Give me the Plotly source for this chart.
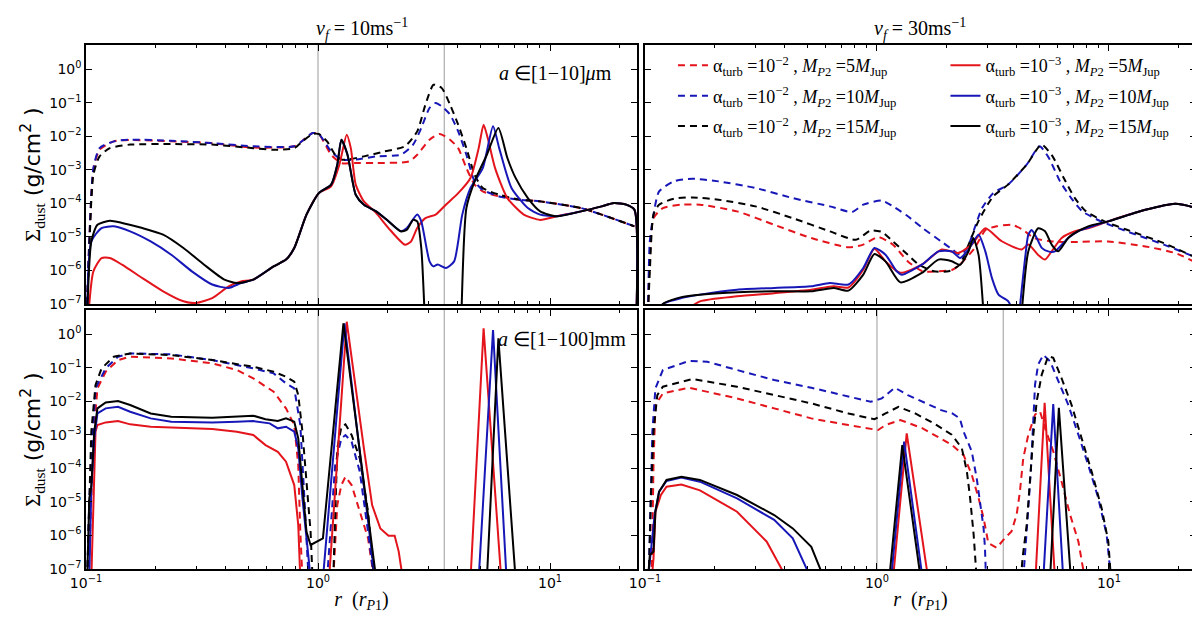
import plotly.graph_objects as go
from plotly.subplots import make_subplots

# r in units of r_P1, Sigma_dust in g/cm^2
# tl/tr: a in [1-10] um (v_f = 10 / 30 m/s), bl/br: a in [1-100] mm
# dash = alpha_turb 1e-2, solid = alpha_turb 1e-3 ; red/blue/black = 5/10/15 M_Jup

# ---------------- top left ----------------
tl_dash_red_x = [0.1012, 0.1033, 0.1076, 0.1144, 0.1318, 0.155, 0.233, 0.350, 0.526, 0.790, 0.857, 0.948, 1.008, 1.139, 1.261, 1.454, 1.782, 2.467, 2.677, 3.025, 3.348, 3.707, 4.020, 4.361, 4.731, 5.131, 6.039, 7.401, 9.071, 13.62, 16.70, 23.12]
tl_dash_red_y = [1e-7, 7.3e-6, 1.0e-3, 3.95e-3, 7.0e-3, 7.7e-3, 7.0e-3, 6.2e-3, 4.6e-3, 5.0e-3, 7.3e-3, 1.24e-2, 1.16e-2, 2.8e-3, 1.58e-3, 1.58e-3, 1.58e-3, 1.77e-3, 2.8e-3, 7.85e-3, 1.16e-2, 7.85e-3, 4.4e-3, 1.12e-3, 3.6e-4, 2.26e-4, 1.6e-4, 1.28e-4, 1.14e-4, 7.2e-5, 4.6e-5, 2.06e-5]

tl_dash_blue_x = [0.1012, 0.1033, 0.1076, 0.1144, 0.1318, 0.155, 0.233, 0.350, 0.526, 0.790, 0.857, 0.948, 1.008, 1.139, 1.261, 1.454, 1.782, 2.275, 2.570, 2.787, 3.025, 3.214, 3.417, 3.707, 4.020, 4.361, 4.731, 5.131, 6.039, 7.401, 9.071, 13.62, 16.70, 23.12]
tl_dash_blue_y = [1e-7, 7.3e-6, 1.12e-3, 4.4e-3, 7.0e-3, 7.85e-3, 7.3e-3, 6.2e-3, 5.0e-3, 5.0e-3, 7.3e-3, 1.24e-2, 1.16e-2, 3.5e-3, 2.0e-3, 2.0e-3, 2.5e-3, 2.8e-3, 5.6e-3, 1.75e-2, 6.9e-2, 9.7e-2, 7.7e-2, 4.4e-2, 1.39e-2, 2.8e-3, 4.5e-4, 2.5e-4, 1.6e-4, 1.28e-4, 1.14e-4, 7.2e-5, 4.6e-5, 2.06e-5]

tl_dash_black_x = [0.1012, 0.1033, 0.1076, 0.1144, 0.1266, 0.155, 0.233, 0.350, 0.526, 0.644, 0.790, 0.857, 0.948, 1.008, 1.094, 1.186, 1.261, 1.340, 1.577, 1.932, 2.369, 2.677, 2.904, 3.149, 3.417, 3.707, 4.020, 4.361, 4.731, 5.131, 6.039, 7.401, 9.071, 13.62, 16.70, 23.12]
tl_dash_black_y = [1e-7, 4.65e-6, 7.1e-4, 2.5e-3, 4.4e-3, 5.6e-3, 5.8e-3, 5.6e-3, 4.4e-3, 3.95e-3, 4.4e-3, 7.0e-3, 1.16e-2, 1.16e-2, 7.0e-3, 2.8e-3, 2.0e-3, 2.0e-3, 2.5e-3, 3.5e-3, 5.0e-3, 1.39e-2, 8.7e-2, 0.34, 0.27, 8.7e-2, 2.2e-2, 4.4e-3, 7.1e-4, 2.85e-4, 1.8e-4, 1.28e-4, 1.14e-4, 7.2e-5, 4.6e-5, 2.06e-5]

tl_solid_red_x = [0.1025, 0.1076, 0.1167, 0.1266, 0.143, 0.175, 0.215, 0.263, 0.298, 0.350, 0.412, 0.466, 0.526, 0.644, 0.728, 0.790, 0.892, 1.008, 1.139, 1.236, 1.330, 1.385, 1.454, 1.577, 1.782, 2.013, 2.369, 2.518, 2.677, 2.904, 3.214, 3.559, 4.020, 4.543, 4.927, 5.173, 5.389, 5.798, 6.551, 7.708, 9.071, 10.67, 13.62, 16.70, 18.87, 21.31, 23.12, 23.6]
tl_solid_red_y = [5e-8, 9.4e-7, 2.34e-6, 2.34e-6, 1.48e-6, 5.9e-7, 2.38e-7, 1.2e-7, 1.07e-7, 1.5e-7, 3.35e-7, 4.7e-7, 5.3e-7, 1.32e-6, 2.1e-6, 4.65e-6, 4.6e-5, 2.0e-4, 3.2e-4, 1.41e-3, 1.11e-2, 4.4e-3, 3.6e-4, 1.14e-4, 5.1e-5, 1.83e-5, 5.85e-6, 7.3e-6, 1.83e-5, 3.6e-5, 4.6e-5, 9.1e-5, 2.0e-4, 5.7e-4, 4.4e-3, 2.2e-2, 8.8e-3, 1.12e-3, 1.43e-4, 4.6e-5, 3.2e-5, 4.1e-5, 5.75e-5, 8.1e-5, 1.02e-4, 9.1e-5, 6.4e-5, 5e-8]

tl_solid_blue_x = [0.1012, 0.1054, 0.1167, 0.1318, 0.155, 0.190, 0.233, 0.286, 0.350, 0.412, 0.466, 0.526, 0.644, 0.728, 0.790, 0.892, 1.008, 1.139, 1.211, 1.261, 1.340, 1.454, 1.577, 1.782, 2.013, 2.275, 2.417, 2.677, 2.787, 3.025, 3.149, 3.281, 3.559, 3.861, 4.187, 4.543, 5.131, 5.681, 6.039, 6.823, 8.028, 9.071, 10.67, 13.62, 16.70, 18.87, 21.31, 23.12, 23.6]
tl_solid_blue_y = [5e-8, 7.3e-6, 1.83e-5, 2.06e-5, 1.46e-5, 7.3e-6, 2.94e-6, 9.4e-7, 3.8e-7, 3.0e-7, 4.2e-7, 5.3e-7, 1.32e-6, 2.1e-6, 4.65e-6, 4.6e-5, 2.0e-4, 3.6e-4, 1.41e-3, 7.85e-3, 2.8e-3, 1.8e-4, 9.1e-5, 5.75e-5, 2.9e-5, 1.46e-5, 1.83e-5, 4.6e-5, 2.9e-5, 1.86e-6, 1.32e-6, 1.5e-6, 1.18e-6, 1.86e-6, 4.6e-5, 2.85e-4, 1.12e-3, 1.96e-2, 4.4e-3, 2.85e-4, 7.2e-5, 4.6e-5, 4.1e-5, 5.75e-5, 8.1e-5, 1.02e-4, 9.1e-5, 6.4e-5, 5e-8]

tl_solid_black_x = [0.1012, 0.1054, 0.112, 0.1266, 0.143, 0.175, 0.215, 0.263, 0.323, 0.395, 0.447, 0.526, 0.644, 0.728, 0.790, 0.892, 1.008, 1.139, 1.211, 1.261, 1.340, 1.454, 1.577, 1.782, 2.013, 2.275, 2.417, 2.570, 2.677, 2.787, 2.880, None, 4.153, 4.361, 4.731, 5.345, 5.991, 6.551, 7.106, 8.028, 9.071, 10.67, 13.62, 16.70, 18.87, 21.31, 23.12, 23.6]
tl_solid_black_y = [5e-8, 7.3e-6, 2.3e-5, 3.0e-5, 2.6e-5, 1.83e-5, 1.16e-5, 4.65e-6, 1.48e-6, 5.3e-7, 4.2e-7, 5.3e-7, 1.32e-6, 2.1e-6, 4.65e-6, 4.6e-5, 2.0e-4, 3.6e-4, 1.41e-3, 7.85e-3, 2.8e-3, 1.8e-4, 9.1e-5, 5.75e-5, 2.9e-5, 1.46e-5, 1.63e-5, 3.2e-5, 2.9e-5, 4.65e-6, 5e-8, None, 5e-8, 7.2e-5, 4.5e-4, 2.8e-3, 1.75e-2, 2.24e-3, 5.7e-4, 1.43e-4, 5.75e-5, 4.1e-5, 5.75e-5, 8.1e-5, 1.02e-4, 9.1e-5, 6.4e-5, 5e-8]

# ---------------- top right ----------------
tr_dash_red_x = [0.103, 0.1049, 0.1088, 0.1194, 0.1435, 0.1725, 0.2493, 0.3604, 0.521, 0.7531, 0.8726, 1.011, 1.172, 1.358, 1.573, 1.823, 2.113, 2.274, 2.635, 2.943, 3.287, 3.809, 4.255, 4.752, 5.713, 6.870, 9.927, 14.35, 19.27, 23.16]
tr_dash_red_y = [5e-8, 2.34e-6, 3.6e-5, 7.2e-5, 9.1e-5, 9.1e-5, 5.75e-5, 2.3e-5, 9.2e-6, 4.9e-6, 5.85e-6, 9.9e-6, 5.85e-6, 1.86e-6, 9.4e-7, 9.4e-7, 1.05e-6, 1.48e-6, 4.65e-6, 1.63e-5, 2.06e-5, 2.3e-5, 1.63e-5, 9.2e-6, 7.3e-6, 7.0e-6, 7.3e-6, 5.2e-6, 3.3e-6, 1.86e-6]

tr_dash_blue_x = [0.103, 0.1049, 0.1088, 0.115, 0.1333, 0.1602, 0.2074, 0.2998, 0.4334, 0.6264, 0.7813, 0.8726, 1.049, 1.172, 1.358, 1.573, 1.891, 2.113, 2.274, 2.448, 2.635, 2.837, 3.168, 3.671, 4.415, 5.022, 5.506, 6.150, 6.870, 7.674, 9.222, 11.94, 17.25, 23.16]
tr_dash_blue_y = [5e-8, 7.3e-6, 4.6e-5, 2.26e-4, 4.5e-4, 5.4e-4, 4.5e-4, 2.85e-4, 1.43e-4, 8.1e-5, 5.5e-5, 9.1e-5, 1.2e-4, 8.1e-5, 4.1e-5, 1.83e-5, 7.3e-6, 4.2e-6, 2.94e-6, 4.65e-6, 1.83e-5, 7.2e-5, 2.0e-4, 3.6e-4, 1.41e-3, 5.0e-3, 2.24e-3, 4.5e-4, 1.43e-4, 5.75e-5, 2.9e-5, 1.46e-5, 5.85e-6, 2.6e-6]

tr_dash_black_x = [0.103, 0.1049, 0.1088, 0.115, 0.1333, 0.1602, 0.2074, 0.2998, 0.4334, 0.6264, 0.8103, 0.9393, 1.049, 1.172, 1.358, 1.516, 1.757, 2.036, 2.274, 2.448, 2.734, 3.168, 3.671, 4.415, 5.116, 5.713, 6.382, 7.128, 7.958, 9.568, 11.94, 17.25, 23.16]
tr_dash_black_y = [5e-8, 9.4e-7, 4.6e-5, 9.1e-5, 1.37e-4, 1.5e-4, 1.28e-4, 8.1e-5, 3.6e-5, 1.46e-5, 8.2e-6, 1.55e-5, 1.4e-5, 7.3e-6, 2.94e-6, 1.48e-6, 9.4e-7, 9.4e-7, 1.48e-6, 4.65e-6, 2.9e-5, 1.6e-4, 3.6e-4, 1.41e-3, 5.6e-3, 2.5e-3, 5.7e-4, 1.43e-4, 5.75e-5, 2.9e-5, 1.63e-5, 6.5e-6, 2.6e-6]

tr_solid_red_x = [0.1435, 0.1725, 0.2493, 0.3604, 0.521, 0.650, 0.7531, 0.8726, 0.9745, 1.088, 1.261, 1.56, 1.90, 2.24, 2.56, 2.93, 3.45, 4.20, 4.49, 4.95, 5.30, 5.66, 6.25, 7.13, 8.13, 9.927, 14.35, 19.27, 22.33, 23.16, 23.6]
tr_solid_red_y = [5e-8, 1.2e-7, 1.69e-7, 2.1e-7, 2.67e-7, 3.35e-7, 3.1e-7, 1.05e-6, 4.4e-6, 1.86e-6, 8.5e-7, 1.48e-6, 4.2e-6, 3.3e-6, 5.9e-6, 1.8e-5, 7.4e-6, 4.2e-6, 5.9e-6, 2.9e-6, 2.1e-6, 3.7e-6, 9.3e-6, 1.47e-5, 1.8e-5, 2.9e-5, 6.4e-5, 9.7e-5, 8.1e-5, 7.2e-5, 5e-8]

tr_solid_blue_x = [0.115, 0.1194, 0.1435, 0.1725, 0.2493, 0.3604, 0.521, 0.6264, 0.7531, 0.8726, 0.9745, 1.088, 1.216, 1.28, 1.56, 1.84, 2.10, 2.28, 2.48, 2.74, 2.93, 3.13, 3.34, 3.68, 3.90, None, 4.10, 4.35, 4.49, 4.64, 4.88, 5.13, 5.47, 5.85, 6.67, 7.36, 8.13, 9.927, 14.35, 19.27, 22.33, 23.16, 23.6]
tr_solid_blue_y = [5e-8, 1e-7, 1.5e-7, 1.9e-7, 2.67e-7, 3.0e-7, 3.35e-7, 4.2e-7, 3.8e-7, 1.18e-6, 4.65e-6, 2.94e-6, 9.4e-7, 7.4e-7, 1.48e-6, 3.7e-6, 3.7e-6, 2.34e-6, 4.2e-6, 1.16e-5, 3.7e-6, 5.9e-7, 1.9e-7, 1.2e-7, 5e-8, None, 5e-8, 2.34e-6, 1.16e-5, 1.6e-5, 9.3e-6, 4.7e-6, 3.7e-6, 3.7e-6, 9.3e-6, 1.47e-5, 1.9e-5, 2.9e-5, 6.4e-5, 9.7e-5, 8.1e-5, 7.2e-5, 5e-8]

tr_solid_black_x = [0.115, 0.1194, 0.1435, 0.2074, 0.3604, 0.521, 0.650, 0.7531, 0.8726, 0.9745, 1.088, 1.261, 1.56, 1.84, 2.10, 2.28, 2.48, 2.60, 2.74, 2.88, None, 4.20, 4.49, 4.95, 5.30, 5.66, 6.04, 6.67, 7.36, 8.13, 9.927, 14.35, 19.27, 22.33, 23.16, 23.6]
tr_solid_black_y = [5e-8, 1e-7, 1.6e-7, 2.1e-7, 2.4e-7, 2.4e-7, 3.0e-7, 2.5e-7, 7.5e-7, 3.1e-6, 1.86e-6, 4.4e-7, 8.4e-7, 2.1e-6, 1.87e-6, 1.48e-6, 3.7e-6, 9.3e-6, 2.9e-6, 5e-8, None, 5e-8, 3.7e-6, 1.8e-5, 1.47e-5, 5.9e-6, 3.7e-6, 9.3e-6, 1.47e-5, 2.06e-5, 2.9e-5, 6.4e-5, 9.7e-5, 8.1e-5, 7.2e-5, 5e-8]

# ---------------- bottom left ----------------
bl_dash_red_x = [0.1025, 0.1054, 0.1076, 0.112, 0.1216, 0.1374, 0.155, 0.233, 0.350, 0.447, 0.526, 0.644, 0.728, 0.790, 0.822, 0.839, 0.857, None, 1.163, 1.211, 1.261, 1.313, 1.396, 1.514, 1.643, 1.746]
bl_dash_red_y = [5e-8, 8.0e-6, 7.8e-4, 2.41e-2, 7.55e-2, 0.168, 0.211, 0.188, 0.134, 8.47e-2, 4.78e-2, 1.91e-2, 6.1e-3, 1.94e-3, 1.25e-4, 1.29e-6, 5e-8, None, 5e-8, 8.0e-6, 3.17e-5, 5.6e-5, 3.17e-5, 5.1e-6, 8.2e-7, 5e-8]

bl_dash_blue_x = [0.1012, 0.1033, 0.1054, 0.1099, 0.1216, 0.1374, 0.155, 0.233, 0.350, 0.526, 0.644, 0.728, 0.790, 0.839, 0.874, 0.911, None, 1.094, 1.186, 1.261, 1.313, 1.396, 1.514, 1.643, 1.746]
bl_dash_blue_y = [5e-8, 1e-5, 2.0e-4, 2.41e-2, 9.49e-2, 0.211, 0.265, 0.248, 0.168, 9.49e-2, 6.73e-2, 3.39e-2, 2.41e-2, 1.94e-3, 1.27e-5, 5e-8, None, 5e-8, 1.25e-4, 7.8e-4, 9.8e-4, 6.2e-4, 7.9e-5, 1.29e-6, 5e-8]

bl_dash_black_x = [0.1012, 0.1033, 0.1054, 0.1099, 0.1167, 0.1318, 0.155, 0.233, 0.350, 0.526, 0.644, 0.728, 0.790, 0.822, 0.857, 0.892, 0.929, 0.948, None, 1.163, 1.211, 1.261, 1.313, 1.396, 1.514, 1.643, 1.746]
bl_dash_black_y = [5e-8, 2.0e-5, 1.23e-3, 3.03e-2, 9.49e-2, 0.211, 0.265, 0.237, 0.168, 0.106, 7.55e-2, 5.36e-2, 3.8e-2, 1.52e-2, 1.23e-3, 4.0e-5, 1.29e-6, 5e-8, None, 5e-8, 3.9e-4, 1.73e-3, 2.04e-3, 9.8e-4, 1.98e-4, 5.1e-6, 5e-8]

bl_solid_red_x = [0.1054, 0.1076, 0.1099, 0.112, 0.1216, 0.1374, 0.155, 0.190, 0.233, 0.350, 0.447, 0.526, 0.594, 0.671, 0.728, 0.790, 0.822, 0.839, None, 1.116, 1.330, 1.577, 1.711, 1.856, 2.013, 2.140, 2.228, 2.322, None, 4.543, 5.173, 6.163]
bl_solid_red_y = [5e-8, 8.0e-6, 1.23e-3, 1.94e-3, 2.33e-3, 2.56e-3, 2.04e-3, 1.73e-3, 1.62e-3, 1.48e-3, 1.23e-3, 9.8e-4, 4.9e-4, 3.1e-4, 1.57e-4, 3.17e-5, 2.04e-6, 5e-8, None, 5e-8, 2.33, 3.9e-4, 8.0e-6, 1.62e-6, 9.8e-7, 9.8e-7, 3.3e-7, 5e-8, None, 5e-8, 1.48, 5e-8]

bl_solid_blue_x = [0.1033, 0.1054, 0.1085, 0.112, 0.1216, 0.1374, 0.155, 0.190, 0.233, 0.350, 0.447, 0.526, 0.619, 0.671, 0.728, 0.790, 0.822, 0.857, 0.911, 0.929, None, 1.050, 1.30, 1.760, None, 4.927, 5.681, 6.498]
bl_solid_blue_y = [5e-8, 2.52e-5, 7.8e-4, 4.3e-3, 6.1e-3, 6.8e-3, 4.85e-3, 3.07e-3, 2.45e-3, 2.33e-3, 2.45e-3, 2.56e-3, 2.18e-3, 1.55e-3, 1.73e-3, 1.23e-3, 3.9e-4, 1.27e-5, 2.07e-7, 5e-8, None, 5e-8, 2.08, 5e-8, None, 5e-8, 1.32, 5e-8]

bl_solid_black_x = [0.1012, 0.1033, 0.1054, 0.1085, 0.112, 0.1216, 0.1374, 0.155, 0.190, 0.233, 0.350, 0.447, 0.526, 0.594, 0.671, 0.728, 0.790, 0.822, 0.857, 0.892, 0.929, 0.988, 1.050, 1.287, 1.782, None, 5.345, 5.991, 7.106]
bl_solid_black_y = [5e-8, 1.27e-5, 2.83e-5, 1.23e-3, 6.1e-3, 9.2e-3, 1.01e-2, 7.7e-3, 4.3e-3, 3.45e-3, 3.2e-3, 3.45e-3, 3.7e-3, 2.9e-3, 2.56e-3, 3.07e-3, 2.45e-3, 7.8e-4, 3.17e-5, 1.29e-6, 5.2e-7, 6.5e-7, 8.2e-7, 2.08, 5e-8, None, 5e-8, 0.743, 5e-8]

# ---------------- bottom right ----------------
br_dash_red_x = [0.1069, 0.1088, 0.1109, 0.1194, 0.1545, 0.2493, 0.3604, 0.521, 0.7531, 0.9393, 1.011, 1.088, 1.261, 1.573, 1.891, 2.10, 2.36, 2.56, 2.74, 2.88, 3.02, 3.28, 3.56, 3.80, 4.00, 4.13, 4.27, 4.49, 4.80, 5.04, 5.30, 5.75, 6.24, 6.79, 7.38, 7.87]
br_dash_red_y = [5e-8, 1.25e-4, 7.7e-3, 1.71e-2, 2.52e-2, 1.21e-2, 6.1e-3, 3.07e-3, 1.94e-3, 1.55e-3, 1.38e-3, 1.94e-3, 2.74e-3, 1.55e-3, 7.8e-4, 5.0e-4, 2.5e-4, 6.5e-5, 1.29e-5, 3.3e-6, 5.9e-7, 4.3e-7, 8.3e-7, 1.32e-6, 4.2e-6, 2.0e-5, 2.0e-4, 1.0e-3, 4.0e-3, 5.0e-3, 1.58e-3, 3.2e-4, 4.1e-5, 4.2e-6, 6.6e-7, 5e-8]

br_dash_blue_x = [0.1038, 0.1052, 0.1076, 0.1109, 0.1194, 0.1545, 0.1856, 0.2493, 0.3604, 0.521, 0.7531, 0.9393, 1.049, 1.193, 1.358, 1.573, 1.891, 2.113, 2.274, 2.36, 2.56, 2.69, 2.78, 2.88, 2.92, 2.95, None, 4.27, 4.37, 4.49, 4.61, 4.72, 4.80, 4.95, 5.21, 5.57, 6.04, 6.67, 7.38, 8.13, 8.99, 9.77, 10.2]
br_dash_blue_y = [5e-8, 1.29e-6, 1.23e-3, 2.41e-2, 8.47e-2, 0.157, 0.150, 8.47e-2, 4.26e-2, 2.52e-2, 1.36e-2, 9.6e-3, 1.21e-2, 2.52e-2, 1.52e-2, 9.6e-3, 5.4e-3, 4.3e-3, 3.07e-3, 1.26e-3, 3.2e-4, 5.1e-5, 8.3e-6, 1.66e-6, 4.3e-7, 5e-8, None, 5e-8, 6.8e-7, 6.6e-6, 1.02e-4, 2.0e-3, 3.1e-2, 0.123, 0.24, 0.155, 3.9e-2, 7.9e-3, 1.0e-3, 1.29e-4, 1.29e-5, 1.05e-6, 5e-8]

br_dash_black_x = [0.1038, 0.106, 0.1088, 0.113, 0.1194, 0.1602, 0.2493, 0.3604, 0.521, 0.7531, 0.9745, 1.088, 1.238, 1.462, 1.757, 2.10, 2.32, 2.44, 2.52, 2.61, 2.69, None, 4.17, 4.24, 4.42, 4.57, 4.72, 4.88, 5.13, 5.47, 5.75, 6.24, 6.89, 7.62, 8.41, 9.29, 9.93, 10.2]
br_dash_black_y = [5e-8, 1.27e-5, 1.23e-3, 1.52e-2, 2.7e-2, 4.56e-2, 2.7e-2, 1.52e-2, 8.6e-3, 4.3e-3, 2.9e-3, 4.3e-3, 6.8e-3, 4.3e-3, 2.18e-3, 1.0e-3, 4.0e-4, 8.1e-5, 1.29e-5, 1.05e-6, 5e-8, None, 5e-8, 2.1e-7, 2.1e-6, 4.1e-5, 1.0e-3, 1.0e-2, 6.2e-2, 0.219, 0.195, 4.9e-2, 7.9e-3, 7.9e-4, 8.1e-5, 6.6e-6, 6.6e-7, 5e-8]

br_solid_red_x = [0.1069, 0.1088, 0.1109, 0.1171, 0.1238, 0.1435, 0.1725, 0.2493, 0.3348, 0.410, None, 1.172, 1.343, 1.663, None, 4.82, 5.28, 5.85]
br_solid_red_y = [5e-8, 2.07e-7, 5.1e-6, 1.6e-5, 2.83e-5, 3.3e-5, 2.2e-5, 5.1e-6, 6.5e-7, 5e-8, None, 5e-8, 1.1e-3, 5e-8, None, 5e-8, 9.0e-3, 5e-8]

br_solid_blue_x = [0.103, 0.1052, 0.110, 0.115, 0.1238, 0.1435, 0.1725, 0.2493, 0.3604, 0.4334, 0.521, None, 1.150, 1.309, 1.573, None, 5.21, 5.75, 6.35]
br_solid_blue_y = [5e-8, 2.07e-7, 4.05e-6, 2.0e-5, 4.2e-5, 5.3e-5, 4.0e-5, 1.27e-5, 2.9e-6, 8.2e-7, 5e-8, None, 5e-8, 6.2e-4, 5e-8, None, 5e-8, 8.2e-3, 5e-8]

br_solid_black_x = [0.103, 0.1049, 0.1088, 0.1109, 0.115, 0.1238, 0.1435, 0.1725, 0.2493, 0.3604, 0.4334, 0.521, 0.593, None, 1.129, 1.285, 1.544, None, 5.57, 6.08, 6.85]
br_solid_black_y = [5e-8, 2.6e-7, 3.3e-7, 5.1e-6, 2.0e-5, 4.5e-5, 5.6e-5, 4.5e-5, 1.6e-5, 4.05e-6, 1.62e-6, 4.6e-7, 5e-8, None, 5e-8, 4.9e-4, 5e-8, None, 5e-8, 6.3e-3, 5e-8]

# planet positions (grey lines)
planet_r = [1.0, 3.5]

x_tick_vals = [0.1, 1, 10]
x_tick_text = ["10<sup>−1</sup>", "10<sup>0</sup>", "10<sup>1</sup>"]
x_minor_vals = [0.2, 0.3, 0.4, 0.5, 0.6, 0.7, 0.8, 0.9, 2, 3, 4, 5, 6, 7, 8, 9, 20]
y_tick_vals = [1e-7, 1e-6, 1e-5, 1e-4, 1e-3, 1e-2, 1e-1, 1]
y_tick_text = ["10<sup>−7</sup>", "10<sup>−6</sup>", "10<sup>−5</sup>", "10<sup>−4</sup>",
               "10<sup>−3</sup>", "10<sup>−2</sup>", "10<sup>−1</sup>", "10<sup>0</sup>"]

legend_labels = [
    "α<sub>turb</sub> =10<sup>−2</sup> , <i>M</i><sub><i>P</i>2</sub> =5<i>M</i><sub>Jup</sub>",
    "α<sub>turb</sub> =10<sup>−2</sup> , <i>M</i><sub><i>P</i>2</sub> =10<i>M</i><sub>Jup</sub>",
    "α<sub>turb</sub> =10<sup>−2</sup> , <i>M</i><sub><i>P</i>2</sub> =15<i>M</i><sub>Jup</sub>",
    "α<sub>turb</sub> =10<sup>−3</sup> , <i>M</i><sub><i>P</i>2</sub> =5<i>M</i><sub>Jup</sub>",
    "α<sub>turb</sub> =10<sup>−3</sup> , <i>M</i><sub><i>P</i>2</sub> =10<i>M</i><sub>Jup</sub>",
    "α<sub>turb</sub> =10<sup>−3</sup> , <i>M</i><sub><i>P</i>2</sub> =15<i>M</i><sub>Jup</sub>",
]

RED = "#e3141c"
BLUE = "#1717b8"
BLACK = "#000000"
SERIF = "Liberation Serif"
SANS = "DejaVu Sans"

panels = {
    (1, 1): [(tl_dash_red_x, tl_dash_red_y), (tl_dash_blue_x, tl_dash_blue_y), (tl_dash_black_x, tl_dash_black_y),
             (tl_solid_red_x, tl_solid_red_y), (tl_solid_blue_x, tl_solid_blue_y), (tl_solid_black_x, tl_solid_black_y)],
    (1, 2): [(tr_dash_red_x, tr_dash_red_y), (tr_dash_blue_x, tr_dash_blue_y), (tr_dash_black_x, tr_dash_black_y),
             (tr_solid_red_x, tr_solid_red_y), (tr_solid_blue_x, tr_solid_blue_y), (tr_solid_black_x, tr_solid_black_y)],
    (2, 1): [(bl_dash_red_x, bl_dash_red_y), (bl_dash_blue_x, bl_dash_blue_y), (bl_dash_black_x, bl_dash_black_y),
             (bl_solid_red_x, bl_solid_red_y), (bl_solid_blue_x, bl_solid_blue_y), (bl_solid_black_x, bl_solid_black_y)],
    (2, 2): [(br_dash_red_x, br_dash_red_y), (br_dash_blue_x, br_dash_blue_y), (br_dash_black_x, br_dash_black_y),
             (br_solid_red_x, br_solid_red_y), (br_solid_blue_x, br_solid_blue_y), (br_solid_black_x, br_solid_black_y)],
}
line_colors = [RED, BLUE, BLACK, RED, BLUE, BLACK]
line_dashes = ["7px,5px", "7px,5px", "7px,5px", "solid", "solid", "solid"]

fig = make_subplots(rows=2, cols=2, horizontal_spacing=0.0072, vertical_spacing=0.0115)

for (row, col), curves in panels.items():
    for i, (xs, ys) in enumerate(curves):
        in_legend = (row, col) == (1, 2)
        fig.add_trace(
            go.Scatter(x=xs, y=ys, mode="lines", name=legend_labels[i],
                       line=dict(color=line_colors[i], width=2, dash=line_dashes[i],
                                 shape="spline" if row == 1 else "linear", smoothing=0.6),
                       showlegend=in_legend, legend="legend" if i < 3 else "legend2",
                       legendgroup="g%d" % i, hoverinfo="skip"),
            row=row, col=col)

# planet locations
for (row, col) in [(1, 1), (2, 1), (2, 2)]:
    for r in planet_r:
        fig.add_vline(x=r, line=dict(color="#9a9a9a", width=1), layer="below", row=row, col=col)

fig.update_xaxes(type="log", range=[-1, 1.375], showline=True, linecolor="black", linewidth=1.5,
                 mirror="allticks", ticks="inside", ticklen=6, tickwidth=1, tickcolor="black",
                 tickvals=x_tick_vals, ticktext=x_tick_text, showgrid=False, zeroline=False, automargin=False,
                 tickfont=dict(family=SANS, size=14, color="black"),
                 minor=dict(tickvals=x_minor_vals, ticks="inside", ticklen=3, tickcolor="black", showgrid=False))
fig.update_xaxes(showticklabels=False, row=1)
fig.update_xaxes(title=dict(text="<i>r</i>  (<i>r</i><sub><i>P</i>1</sub>)", font=dict(family=SERIF, size=20, color="black"),
                            standoff=2), row=2)

fig.update_yaxes(type="log", range=[-7, 0.716], showline=True, linecolor="black", linewidth=1.5,
                 mirror="allticks", ticks="inside", ticklen=6, tickwidth=1, tickcolor="black",
                 tickvals=y_tick_vals, ticktext=y_tick_text, showgrid=False, zeroline=False, automargin=False,
                 tickfont=dict(family=SANS, size=14, color="black"))
fig.update_yaxes(showticklabels=False, col=2)
fig.update_yaxes(title=dict(text="<span style='font-family:Liberation Serif'>Σ<sub>dust</sub></span> (g/cm<sup>2</sup> )",
                            font=dict(family=SANS, size=22, color="black"), standoff=2), col=1)

# column titles and size ranges
col_titles = ["<i>v<sub>f</sub></i> = 10ms<sup>−1</sup>", "<i>v<sub>f</sub></i> = 30ms<sup>−1</sup>"]
for j, txt in enumerate(col_titles):
    fig.add_annotation(text=txt, xref="x%s domain" % ("" if j == 0 else "2"), yref="y%s domain" % ("" if j == 0 else "2"),
                       x=0.5, y=1.0, xanchor="center", yanchor="bottom", yshift=0, showarrow=False,
                       font=dict(family=SERIF, size=20, color="black"))
fig.add_annotation(text="<i>a</i> ∈[1−10]<i>μ</i>m", xref="x domain", yref="y domain", x=0.958, y=0.89,
                   xanchor="right", yanchor="middle", showarrow=False, font=dict(family=SERIF, size=20, color="black"))
fig.add_annotation(text="<i>a</i> ∈[1−100]mm", xref="x3 domain", yref="y3 domain", x=0.984, y=0.89,
                   xanchor="right", yanchor="middle", showarrow=False, font=dict(family=SERIF, size=20, color="black"))

legend_style = dict(xanchor="left", yanchor="top", y=0.996, bgcolor="rgba(0,0,0,0)", borderwidth=0,
                    font=dict(family=SERIF, size=18, color="black"), traceorder="grouped", tracegroupgap=4)
fig.update_layout(
    width=1200, height=622,
    margin=dict(l=78, r=12, t=37, b=61),
    paper_bgcolor="white", plot_bgcolor="white",
    legend=dict(x=0.5288, **legend_style),
    legend2=dict(x=0.7743, **legend_style),
)

fig.write_html("out.html")
